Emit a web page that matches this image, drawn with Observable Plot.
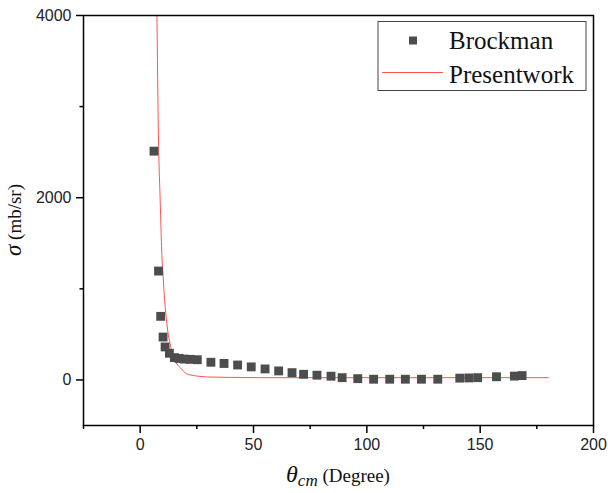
<!DOCTYPE html>
<html>
<head>
<meta charset="utf-8">
<script src="https://cdn.jsdelivr.net/npm/d3@7"></script>
<script src="https://cdn.jsdelivr.net/npm/@observablehq/plot@0.6"></script>
<style>
  html, body { margin: 0; padding: 0; background: #fff; }
  #chart svg { display: block; }
</style>
</head>
<body>
<div id="chart"></div>
<script>
// Brockman experimental points (theta_cm in degrees, sigma in mb/sr)
const brockmanTheta = [6.1, 8.1, 9.05, 10.1, 11.0, 12.9, 15.1, 17.2, 19.4, 22.1, 25.2,
  31.2, 37.0, 43.0, 49.0, 55.1, 61.1, 67.0, 72.1, 78.0, 84.2, 89.1, 96.0,
  103.0, 110.1, 117.0, 124.1, 131.3, 141.0, 145.0, 148.9, 157.2, 165.1, 168.5];
const brockmanSigma = [2511, 1195, 698, 471, 362, 293, 245, 236, 229, 226, 222,
  194, 181, 164, 143, 121, 99, 80, 62, 52, 41, 25, 14,
  8, 8, 8, 8, 8, 20, 22, 25, 35, 42, 48];

// Present work (calculated curve)
const presentTheta = [7.4, 8.1, 8.8, 9.7, 10.0, 10.6, 11.5, 12.4, 13.2, 14.3, 16.2, 17.7,
  20.6, 22.1, 26.0, 29.4, 40, 53, 80, 120, 150, 180];
const presentSigma = [4000, 2620, 2000, 1305, 1195, 940, 683, 500, 395, 282, 175, 135,
  65, 55, 40, 33, 28, 25, 25, 25, 25, 25];

const xMajor = [0, 50, 100, 150, 200];
const xMinor = [-25, 25, 75, 125, 175];
const yMajor = [0, 2000, 4000];
const yMinor = [1000, 3000];
const seriesNames = ["Brockman", "Presentwork"];

const brockman = brockmanTheta.map((t, i) => ({theta: t, sigma: brockmanSigma[i]}));
const present = presentTheta.map((t, i) => ({theta: t, sigma: presentSigma[i]}));

const ML = 83, MR = 15, MT = 15, MB = 68;
const sans = "'Liberation Sans', Arial, sans-serif";
const serif = "'Liberation Serif', 'Times New Roman', serif";

const chart = Plot.plot({
  width: 608,
  height: 493,
  marginLeft: ML, marginRight: MR, marginTop: MT, marginBottom: MB,
  style: {fontFamily: sans, fontSize: "16px", color: "#222", background: "#fff"},
  x: {domain: [-25, 200]},
  y: {domain: [-500, 4000]},
  marks: [
    Plot.line(present, {x: "theta", y: "sigma", stroke: "#ff3333", strokeWidth: 0.85, curve: "monotone-x", clip: true}),
    Plot.dot(brockman, {x: "theta", y: "sigma", symbol: "square", r: 5, fill: "#4d4d4d", stroke: "none"}),
    Plot.axisX({ticks: xMajor, tickSize: 8, tickPadding: 5, tickFormat: d3.format("d"), label: null, stroke: "black", strokeWidth: 1.5, fontSize: 16}),
    Plot.axisX({ticks: xMinor, tickSize: 4, tickFormat: () => "", label: null, stroke: "black", strokeWidth: 1.5}),
    Plot.axisY({ticks: yMajor, tickSize: 7, tickPadding: 5, tickFormat: d3.format("d"), label: null, stroke: "black", strokeWidth: 1.5, fontSize: 16}),
    Plot.axisY({ticks: yMinor, tickSize: 3.5, tickFormat: () => "", label: null, stroke: "black", strokeWidth: 1.5}),
    Plot.frame({stroke: "black", strokeWidth: 1.5})
  ]
});

document.getElementById("chart").appendChild(chart);

const svg = d3.select(chart);

// X axis title: θcm (Degree)
const xt = svg.append("text")
  .attr("x", (ML + 608 - MR) / 2)
  .attr("y", 482)
  .attr("text-anchor", "middle")
  .attr("font-family", serif)
  .attr("fill", "#111");
xt.append("tspan").attr("font-style", "italic").attr("font-size", 24).text("θ");
xt.append("tspan").attr("font-style", "italic").attr("font-size", 17).attr("dy", 4).text("cm");
xt.append("tspan").attr("font-size", 19).attr("dy", -4).text(" (Degree)");

// Y axis title: σ (mb/sr)
const yt = svg.append("text")
  .attr("transform", `translate(21,${(MT + 493 - MB) / 2}) rotate(-90)`)
  .attr("text-anchor", "middle")
  .attr("font-family", serif)
  .attr("fill", "#111");
yt.append("tspan").attr("font-style", "italic").attr("font-size", 23).text("σ");
yt.append("tspan").attr("font-size", 19).text(" (mb/sr)");

// Legend
const lg = svg.append("g").attr("text-anchor", "start");
lg.append("rect").attr("x", 378).attr("y", 21.5).attr("width", 208).attr("height", 69)
  .attr("fill", "#fff").attr("stroke", "#444").attr("stroke-width", 1);
lg.append("rect").attr("x", 409).attr("y", 36.5).attr("width", 8).attr("height", 8).attr("fill", "#4d4d4d");
lg.append("line").attr("x1", 382).attr("x2", 443).attr("y1", 72.5).attr("y2", 72.5)
  .attr("stroke", "#ff3333").attr("stroke-width", 0.85);
lg.append("text").attr("x", 449).attr("y", 49).attr("font-family", serif).attr("font-size", 25)
  .attr("fill", "#111").text(seriesNames[0]);
lg.append("text").attr("x", 449).attr("y", 83).attr("font-family", serif).attr("font-size", 25)
  .attr("fill", "#111").text(seriesNames[1]);
</script>
</body>
</html>
